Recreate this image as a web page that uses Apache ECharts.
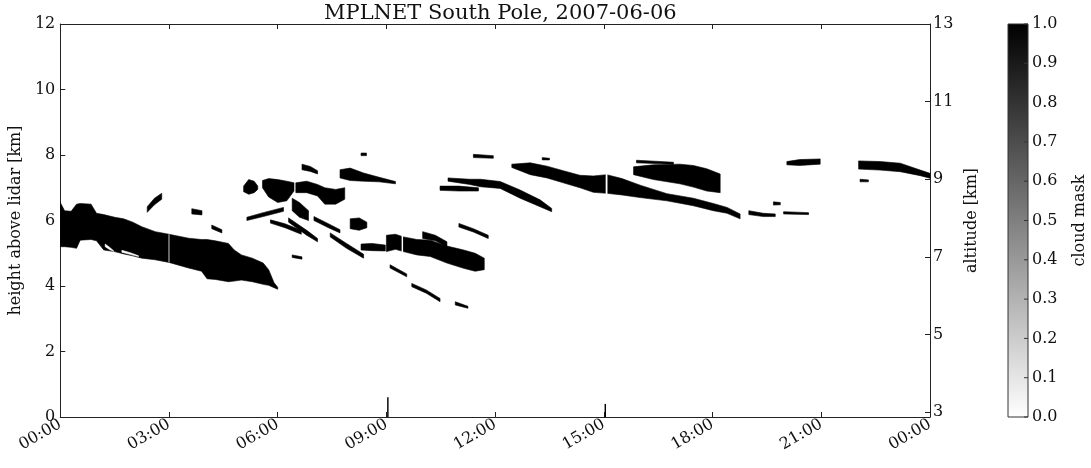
<!DOCTYPE html>
<html>
<head>
<meta charset="utf-8">
<script src="https://cdn.jsdelivr.net/npm/echarts@6/dist/echarts.min.js"></script>
<style>
html, body { margin: 0; padding: 0; background: #fff; }
#chart { width: 1091px; height: 468px; }
</style>
</head>
<body>
<div id="chart"></div>
<script>
// axis ticks
const hourTicks = [0, 3, 6, 9, 12, 15, 18, 21, 24];
const heightTicks = [0, 2, 4, 6, 8, 10, 12];
const altitudeTicks = [3, 5, 7, 9, 11, 13];
const maskTicks = [0, 0.1, 0.2, 0.3, 0.4, 0.5, 0.6, 0.7, 0.8, 0.9, 1.0];

// cloud layers: [hour, base km, top km]
const mainDeck = [
  [0.0, 5.20, 6.55], [0.12, 5.20, 6.30], [0.30, 5.18, 6.28], [0.45, 5.15, 6.50],
  [0.55, 5.40, 6.52], [0.85, 5.42, 6.50], [1.0, 5.38, 6.22], [1.2, 5.10, 6.18],
  [1.5, 5.05, 6.10], [1.75, 4.98, 6.05], [2.0, 4.92, 5.95], [2.25, 4.85, 5.81],
  [2.62, 4.80, 5.66], [3.0, 4.72, 5.58], [3.54, 4.55, 5.46], [3.9, 4.45, 5.42],
  [4.05, 4.22, 5.42], [4.28, 4.20, 5.38], [4.64, 4.13, 5.30], [4.8, 4.15, 5.10],
  [5.0, 4.18, 4.95], [5.3, 4.13, 4.85], [5.6, 4.05, 4.70], [5.75, 4.02, 4.50],
  [5.9, 3.95, 4.10], [6.0, 3.90, 3.96]
];
const deckHoleA = [[1.24, 5.20, 5.28], [1.35, 5.12, 5.19], [1.47, 5.06, 5.08]];
const deckHoleB = [[1.70, 5.03, 5.09], [1.95, 4.96, 5.01], [2.16, 4.90, 4.92]];
const streak24 = [[2.4, 6.25, 6.42], [2.6, 6.48, 6.68], [2.8, 6.65, 6.83]];
const bit36 = [[3.63, 6.20, 6.36], [3.91, 6.17, 6.30]];
const bit42 = [[4.18, 5.75, 5.86], [4.46, 5.62, 5.72]];
const bit65 = [[6.40, 4.87, 4.95], [6.67, 4.82, 4.89]];
const blob51 = [[5.06, 6.88, 7.05], [5.2, 6.80, 7.25], [5.35, 6.85, 7.20], [5.45, 6.95, 7.05]];
const mass58 = [[5.58, 7.00, 7.22], [5.75, 6.72, 7.28], [6.0, 6.55, 7.25], [6.25, 6.60, 7.20], [6.45, 6.90, 7.15]];
const mass70 = [[6.5, 6.85, 7.15], [6.8, 6.85, 7.20], [7.1, 6.75, 7.10], [7.3, 6.50, 7.00], [7.6, 6.50, 6.95], [7.85, 6.65, 7.00]];
const column65 = [[6.4, 6.30, 6.68], [6.6, 6.10, 6.55], [6.85, 6.00, 6.30]];
const upper68 = [[6.67, 7.55, 7.72], [6.9, 7.50, 7.65], [7.1, 7.42, 7.52]];
const upper80 = [[7.72, 7.30, 7.55], [8.0, 7.22, 7.60], [8.37, 7.20, 7.45], [8.8, 7.18, 7.32], [9.25, 7.12, 7.19]];
const dots83 = [[8.3, 7.98, 8.06], [8.45, 7.98, 8.06]];
const rise55 = [[5.15, 6.00, 6.10], [5.6, 6.12, 6.24], [6.16, 6.28, 6.40]];
const fall58 = [[5.8, 5.92, 6.02], [6.2, 5.78, 5.90], [6.65, 5.58, 5.70]];
const fall63 = [[6.3, 5.95, 6.08], [6.8, 5.55, 5.70], [7.1, 5.35, 5.45]];
const fall70 = [[7.0, 6.00, 6.12], [7.4, 5.78, 5.90], [7.72, 5.62, 5.72]];
const fall75 = [[7.45, 5.50, 5.62], [7.9, 5.15, 5.30], [8.37, 4.85, 4.97]];
const blob82 = [[8.0, 5.75, 6.05], [8.25, 5.70, 6.08], [8.46, 5.78, 5.95]];
const mid85 = [[8.3, 5.10, 5.28], [8.6, 5.08, 5.30], [8.97, 5.07, 5.25]];
const layer10 = [
  [9.0, 5.05, 5.55], [9.25, 5.12, 5.58], [9.47, 5.05, 5.50], [9.84, 4.95, 5.42],
  [10.21, 4.90, 5.40], [10.67, 4.70, 5.22], [11.13, 4.54, 5.10], [11.45, 4.45, 5.00],
  [11.7, 4.50, 4.85]
];
const crest10 = [[10.0, 5.45, 5.66], [10.35, 5.38, 5.55], [10.67, 5.20, 5.35]];
const low92 = [[9.1, 4.55, 4.65], [9.56, 4.28, 4.37]];
const low100 = [[9.7, 3.98, 4.08], [10.1, 3.78, 3.88], [10.48, 3.52, 3.62]];
const low110 = [[10.9, 3.42, 3.52], [11.25, 3.32, 3.38]];
const streak110 = [[10.48, 6.92, 7.05], [11.0, 6.90, 7.05], [11.54, 6.90, 7.00]];
const streak114 = [[11.0, 5.80, 5.91], [11.4, 5.65, 5.75], [11.81, 5.45, 5.55]];
const dots117 = [[11.4, 7.92, 8.02], [11.95, 7.90, 7.98]];
const dots133 = [[13.3, 7.85, 7.92], [13.5, 7.85, 7.90]];
const lowerBand = [
  [10.7, 7.20, 7.30], [11.3, 7.10, 7.26], [11.6, 7.03, 7.26], [12.14, 6.98, 7.19],
  [12.69, 6.68, 6.93], [13.24, 6.42, 6.63], [13.56, 6.27, 6.37]
];
const upperBand = [
  [12.46, 7.62, 7.72], [12.97, 7.40, 7.76], [13.43, 7.30, 7.66], [13.88, 7.15, 7.52],
  [14.34, 7.00, 7.38], [14.71, 6.86, 7.36], [15.08, 6.83, 7.40], [15.5, 6.78, 7.28],
  [16.0, 6.70, 7.08], [16.74, 6.60, 6.82], [17.47, 6.45, 6.68], [18.02, 6.30, 6.52],
  [18.4, 6.22, 6.40], [18.76, 6.05, 6.20]
];
const blob170 = [[15.82, 7.40, 7.64], [16.37, 7.25, 7.70], [17.1, 7.12, 7.72], [17.47, 7.02, 7.68], [17.84, 6.90, 7.58], [18.21, 6.85, 7.42]];
const wisp163 = [[15.9, 7.76, 7.84], [16.92, 7.72, 7.78]];
const bits193 = [[19.0, 6.18, 6.30], [19.4, 6.12, 6.22], [19.73, 6.12, 6.20]];
const bits198 = [[19.68, 6.47, 6.57], [19.87, 6.48, 6.55]];
const bits203 = [[19.96, 6.20, 6.27], [20.65, 6.18, 6.24]];
const blob205 = [[20.05, 7.70, 7.80], [20.4, 7.68, 7.86], [20.97, 7.72, 7.88]];
const band230 = [[22.03, 7.57, 7.82], [22.62, 7.54, 7.80], [23.18, 7.49, 7.75], [23.73, 7.37, 7.54], [24.0, 7.29, 7.44]];
const blob222 = [[22.07, 7.18, 7.26], [22.3, 7.18, 7.24]];

const cloudLayers = [
  mainDeck, streak24, bit36, bit42, bit65, blob51, mass58, mass70, column65, upper68,
  upper80, dots83, rise55, fall58, fall63, fall70, fall75, blob82, mid85, layer10,
  crest10, low92, low100, low110, streak110, streak114, dots117, dots133, lowerBand,
  upperBand, blob170, wisp163, bits193, bits198, bits203, blob205, band230, blob222
];
const clearPatches = [deckHoleA, deckHoleB];

// single profile columns: [hour start, hour end, base km, top km, mask]
const maskColumns = [
  [2.98, 3.02, 4.72, 5.58, 0.45],
  [9.42, 9.46, 5.00, 5.60, 0],
  [15.05, 15.10, 6.80, 7.42, 0],
  [9.02, 9.06, 0.0, 0.60, 1],
  [15.02, 15.06, 0.0, 0.40, 1]
];

const serif = 'DejaVu Serif';
const ink = '#111';
const spine = '#222';

function maskColor(v) {
  const g = Math.round(255 * (1 - v));
  return 'rgb(' + g + ',' + g + ',' + g + ')';
}

function hourLabel(v) {
  const h = v % 24;
  return (h < 10 ? '0' : '') + h + ':00';
}

function polygonItem(list, fill) {
  return function (params, api) {
    const layer = list[params.dataIndex];
    const topEdge = layer.map(p => api.coord([p[0], p[2]]));
    const baseEdge = layer.slice().reverse().map(p => api.coord([p[0], p[1]]));
    return {
      type: 'polygon',
      shape: { points: topEdge.concat(baseEdge) },
      style: { fill: fill, stroke: fill, lineWidth: 0.6 }
    };
  };
}

let myChart = echarts.init(document.getElementById('chart'));
let option = {
  animation: false,
  backgroundColor: '#fff',
  title: {
    text: 'MPLNET South Pole, 2007-06-06',
    left: 319,
    top: -2,
    textStyle: { fontFamily: serif, fontSize: 21, fontWeight: 'normal', color: ink }
  },
  grid: [
    { left: 60, top: 24, width: 870, height: 393 },
    { left: 1008, top: 24, width: 20, height: 393 }
  ],
  xAxis: [
    {
      type: 'value', gridIndex: 0, min: 0, max: 24, interval: 3,
      axisLine: { show: true, lineStyle: { color: spine } },
      axisTick: { inside: true, length: 5, lineStyle: { color: spine } },
      axisLabel: {
        rotate: 30, margin: 6, color: ink, fontFamily: serif, fontSize: 16,
        formatter: hourLabel
      },
      splitLine: { show: false }
    },
    {
      type: 'value', gridIndex: 0, position: 'top', min: 0, max: 24, interval: 3,
      axisLine: { show: true, onZero: false, lineStyle: { color: spine } },
      axisTick: { inside: true, length: 5, lineStyle: { color: spine } },
      axisLabel: { show: false },
      splitLine: { show: false }
    },
    { type: 'value', gridIndex: 1, min: 0, max: 1, show: false }
  ],
  yAxis: [
    {
      type: 'value', gridIndex: 0, min: 0, max: 12, interval: 2,
      name: 'height above lidar [km]', nameLocation: 'middle', nameGap: 36,
      nameTextStyle: { fontFamily: serif, fontSize: 16, color: ink },
      axisLine: { show: true, lineStyle: { color: spine } },
      axisTick: { inside: true, length: 5, lineStyle: { color: spine } },
      axisLabel: { margin: 5, color: ink, fontFamily: serif, fontSize: 16 },
      splitLine: { show: false }
    },
    {
      type: 'value', gridIndex: 0, position: 'right', min: 2.87, max: 13,
      name: 'altitude [km]', nameLocation: 'middle', nameGap: 33, nameRotate: 90,
      nameTextStyle: { fontFamily: serif, fontSize: 16, color: ink },
      axisLine: { show: true, onZero: false, lineStyle: { color: spine } },
      axisTick: { inside: true, length: 5, customValues: altitudeTicks, lineStyle: { color: spine } },
      axisLabel: { margin: 3, color: ink, fontFamily: serif, fontSize: 16, customValues: altitudeTicks },
      splitLine: { show: false }
    },
    {
      type: 'value', gridIndex: 1, position: 'right', min: 0, max: 1, interval: 0.1,
      name: 'cloud mask', nameLocation: 'middle', nameGap: 44, nameRotate: 90,
      nameTextStyle: { fontFamily: serif, fontSize: 16, color: ink },
      axisLine: { show: false },
      axisTick: { show: false },
      axisLabel: { margin: 4, color: ink, fontFamily: serif, fontSize: 16, formatter: v => v.toFixed(1) },
      splitLine: { show: false }
    }
  ],
  series: [
    {
      type: 'custom', xAxisIndex: 0, yAxisIndex: 0, clip: true,
      renderItem: polygonItem(cloudLayers, maskColor(1)),
      data: cloudLayers.map(l => [l[0][0], l[0][2]])
    },
    {
      type: 'custom', xAxisIndex: 0, yAxisIndex: 0, clip: true,
      renderItem: polygonItem(clearPatches, maskColor(0)),
      data: clearPatches.map(l => [l[0][0], l[0][2]])
    },
    {
      type: 'custom', xAxisIndex: 0, yAxisIndex: 0, clip: true,
      renderItem: function (params, api) {
        const p0 = api.coord([api.value(0), api.value(3)]);
        const p1 = api.coord([api.value(1), api.value(2)]);
        return {
          type: 'rect',
          shape: { x: p0[0], y: p0[1], width: Math.max(p1[0] - p0[0], 1), height: p1[1] - p0[1] },
          style: { fill: maskColor(api.value(4)) }
        };
      },
      encode: { x: [0, 1], y: [2, 3] },
      data: maskColumns
    },
    {
      // colour bar with its frame and inward ticks
      type: 'custom', xAxisIndex: 2, yAxisIndex: 2, silent: true,
      renderItem: function (params, api) {
        const p0 = api.coord([0, maskTicks[maskTicks.length - 1]]);
        const p1 = api.coord([1, maskTicks[0]]);
        const ticks = maskTicks.map(v => {
          const p = api.coord([1, v]);
          return {
            type: 'line',
            shape: { x1: p[0] - 4, y1: p[1], x2: p[0], y2: p[1] },
            style: { stroke: '#333', lineWidth: 1 }
          };
        });
        return {
          type: 'group',
          children: [{
            type: 'rect',
            shape: { x: p0[0], y: p0[1], width: p1[0] - p0[0], height: p1[1] - p0[1] },
            style: {
              fill: new echarts.graphic.LinearGradient(0, 0, 0, 1, [
                { offset: 0, color: maskColor(1) },
                { offset: 1, color: maskColor(0) }
              ]),
              stroke: '#333',
              lineWidth: 1
            }
          }].concat(ticks)
        };
      },
      data: [[0, 0]]
    }
  ]
};
myChart.setOption(option);
</script>
</body>
</html>
